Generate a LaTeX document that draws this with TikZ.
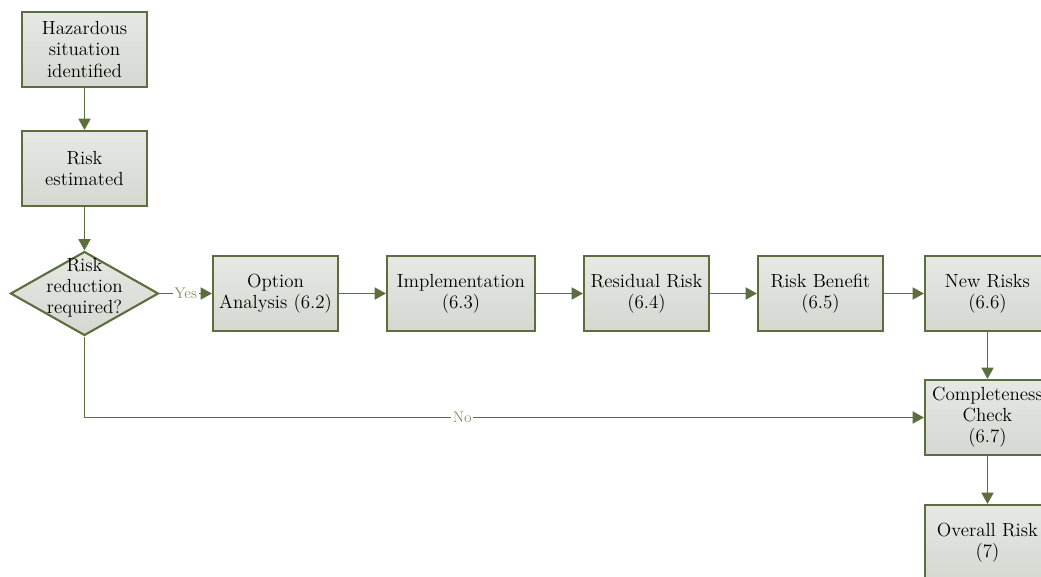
\documentclass[tikz,border=0pt]{standalone}
\usetikzlibrary{shapes.geometric,arrows.meta}

\definecolor{edgegreen}{RGB}{92,110,62}
\definecolor{labelgreen}{RGB}{128,146,100}
\definecolor{boxtop}{RGB}{230,232,227}
\definecolor{boxbottom}{RGB}{213,216,209}

\begin{document}
\begin{tikzpicture}[x=0.025cm, y=-0.025cm,
        stepbox/.style={rectangle, draw=edgegreen, line width=1.5pt,
            top color=boxtop, bottom color=boxbottom,
            minimum width=3.125cm, minimum height=1.875cm, inner sep=2pt,
            align=center, font=\fontsize{13.5}{15}\selectfont},
        decision/.style={diamond, draw=edgegreen, line width=1.5pt,
            top color=boxtop, bottom color=boxbottom,
            minimum width=3.7cm, minimum height=2.1cm, inner sep=0pt,
            font=\fontsize{13.5}{15}\selectfont},
        flow/.style={draw=edgegreen, line width=1.1pt,
            -{Triangle[length=2.8mm, width=3mm]}},
        answer/.style={fill=white, text=labelgreen, inner sep=1pt,
            font=\fontsize{11}{12}\selectfont}]
        \useasboundingbox (0,0) rectangle (1041,577);
        \clip (0,0) rectangle (1041,577);

        % Nodes
        \node (haz) [stepbox] at (84.5,49.5) {Hazardous\\situation\\identified};
        \node (est) [stepbox] at (84.5,168.5) {Risk\\estimated};
        \node (dec) [decision] at (84.5,293.5)
            {\smash{\makebox[0pt]{\begin{tabular}{@{}c@{}}Risk\\reduction\\required?\end{tabular}}}};
        \node (opt) [stepbox] at (275.5,293.5) {Option\\Analysis (6.2)};
        \node (impl) [stepbox, minimum width=3.7cm] at (461,293.5) {Implementation\\(6.3)};
        \node (resid) [stepbox] at (646.5,293.5) {Residual Risk\\(6.4)};
        \node (benefit) [stepbox] at (820.5,293.5) {Risk Benefit\\(6.5)};
        \node (newrisk) [stepbox] at (987.5,293.5) {New Risks\\(6.6)};
        \node (complete) [stepbox] at (987.5,417.5) {Completeness\\Check\\(6.7)};
        \node (overall) [stepbox] at (987.5,542.5) {Overall Risk\\(7)};

        % Directed Edges
        \draw[flow] (haz) -- (est);
        \draw[flow] (est) -- (dec);
        \draw[flow] (dec) -- node[answer] {Yes} (opt);
        \draw[flow] (opt) -- (impl);
        \draw[flow] (impl) -- (resid);
        \draw[flow] (resid) -- (benefit);
        \draw[flow] (benefit) -- (newrisk);
        \draw[flow] (newrisk) -- (complete);
        \draw[flow] (dec) |- node[answer, pos=0.725] {No} (complete);
        \draw[flow] (complete) -- (overall);
    \end{tikzpicture}
\end{document}
